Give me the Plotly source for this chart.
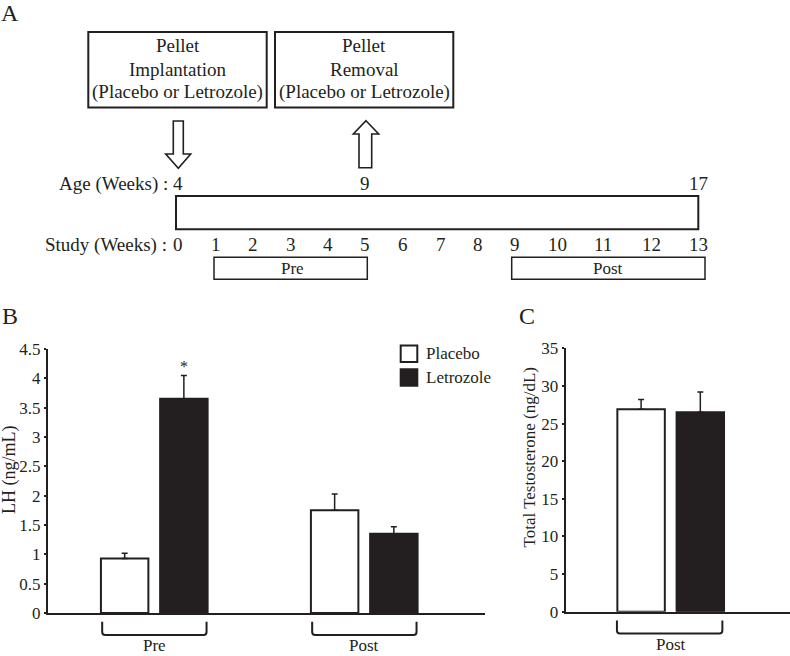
import plotly.graph_objects as go

# ---------------- Data ----------------
series_names = ["Placebo", "Letrozole"]

# Panel B: LH (ng/mL)
lh_groups = ["Pre", "Post"]
lh_placebo = [0.93, 1.75]
lh_placebo_sem = [0.09, 0.28]
lh_letrozole = [3.65, 1.35]
lh_letrozole_sem = [0.40, 0.12]
lh_ticks = [0, 0.5, 1, 1.5, 2, 2.5, 3, 3.5, 4, 4.5]
lh_significant = [True, False]   # letrozole vs placebo

# Panel C: Total testosterone (ng/dL)
tt_groups = ["Post"]
tt_placebo = [26.9]
tt_placebo_sem = [1.3]
tt_letrozole = [26.5]
tt_letrozole_sem = [2.7]
tt_ticks = [0, 5, 10, 15, 20, 25, 30, 35]

# Panel A: study timeline
study_weeks = list(range(14))
age_weeks = [4, 9, 17]
age_at_study_week = [0, 5, 13]
pre_window = [1, 5]
post_window = [9, 13]
event_boxes = [
    ["Pellet", "Implantation", "(Placebo or Letrozole)"],
    ["Pellet", "Removal", "(Placebo or Letrozole)"],
]

# ---------------- Layout helpers ----------------
W, H = 790, 656
INK = "#231f20"
FONT = "Liberation Serif, Times New Roman, serif"


def px(x):
    return x / W


def py(y):
    return 1 - y / H


# pixel positions of the study-week labels on the timeline
week_px = [178, 215.7, 253.3, 290.7, 328.3, 365, 403.3, 440.7, 478.3, 515,
           557.7, 603.3, 651.7, 698.3]

BAR_W = 0.226
OFF_P = -0.253
OFF_L = 0.029

fig = go.Figure()

# ---------------- Panel B bars ----------------
xb = list(range(len(lh_groups)))
fig.add_trace(go.Bar(
    x=xb, y=lh_placebo, name=series_names[0], width=BAR_W, offset=OFF_P,
    marker=dict(color="white", line=dict(color=INK, width=2)),
    error_y=dict(type="data", symmetric=False, array=lh_placebo_sem,
                 arrayminus=[0] * len(lh_placebo), color=INK, thickness=1.5, width=3),
    xaxis="x", yaxis="y", showlegend=False))
fig.add_trace(go.Bar(
    x=xb, y=lh_letrozole, name=series_names[1], width=BAR_W, offset=OFF_L,
    marker=dict(color=INK, line=dict(color=INK, width=2)),
    error_y=dict(type="data", symmetric=False, array=lh_letrozole_sem,
                 arrayminus=[0] * len(lh_letrozole), color=INK, thickness=1.5, width=3),
    xaxis="x", yaxis="y", showlegend=False))

# ---------------- Panel C bars ----------------
xc = list(range(len(tt_groups)))
fig.add_trace(go.Bar(
    x=xc, y=tt_placebo, name=series_names[0], width=BAR_W, offset=OFF_P,
    marker=dict(color="white", line=dict(color=INK, width=2)),
    error_y=dict(type="data", symmetric=False, array=tt_placebo_sem,
                 arrayminus=[0] * len(tt_placebo), color=INK, thickness=1.5, width=3),
    xaxis="x2", yaxis="y2", showlegend=False))
fig.add_trace(go.Bar(
    x=xc, y=tt_letrozole, name=series_names[1], width=BAR_W, offset=OFF_L,
    marker=dict(color=INK, line=dict(color=INK, width=2)),
    error_y=dict(type="data", symmetric=False, array=tt_letrozole_sem,
                 arrayminus=[0] * len(tt_letrozole), color=INK, thickness=1.5, width=3),
    xaxis="x2", yaxis="y2", showlegend=False))

shapes = []
annotations = []


def ann(text, x, y, size, xanchor="center", yanchor="middle", xref="paper",
        yref="paper", angle=0):
    annotations.append(dict(text=text, x=x, y=y, xref=xref, yref=yref,
                            xanchor=xanchor, yanchor=yanchor, showarrow=False,
                            textangle=angle,
                            font=dict(family=FONT, size=size, color=INK)))


def rect(x0, y0, x1, y1, lw=2, fill="rgba(0,0,0,0)"):
    shapes.append(dict(type="rect", xref="paper", yref="paper",
                       x0=px(x0), x1=px(x1), y0=py(y0), y1=py(y1),
                       line=dict(color=INK, width=lw), fillcolor=fill, layer="above"))


def poly(points, lw=1.6):
    path = "M" + " L".join(f"{px(a):.5f},{py(b):.5f}" for a, b in points) + " Z"
    shapes.append(dict(type="path", xref="paper", yref="paper", path=path,
                       line=dict(color=INK, width=lw), fillcolor="white", layer="above"))


def bracket(xref, x0, x1, ytop_px, ybot_px, rx):
    yt, yb = py(ytop_px), py(ybot_px)
    ry = 3 / H
    path = (f"M{x0},{yt} L{x0},{yb + ry} Q{x0},{yb} {x0 + rx},{yb} "
            f"L{x1 - rx},{yb} Q{x1},{yb} {x1},{yb + ry} L{x1},{yt}")
    shapes.append(dict(type="path", xref=xref, yref="paper", path=path,
                       line=dict(color=INK, width=2)))


# ---------------- Panel A: timeline diagram ----------------
ann("A", px(10), py(13), 24)
box_px = [(88.3, 266.7), (275.0, 453.3)]
line_y = [46, 69, 91.7]
for (bx0, bx1), lines in zip(box_px, event_boxes):
    rect(bx0, 32, bx1, 107.5)
    for t, ly in zip(lines, line_y):
        ann(t, px((bx0 + bx1) / 2), py(ly), 19)

# down arrow (implantation) and up arrow (removal)
poly([(173.3, 121), (183.3, 121), (183.3, 154), (190.7, 154), (178.3, 168.3),
      (165.7, 154), (173.3, 154)])
poly([(366, 120.7), (378.7, 134), (371.7, 134), (371.7, 167.7), (359, 167.7),
      (359, 134), (353.3, 134)])

ann("Age (Weeks) :", px(169.5), py(183.5), 19, xanchor="right")
for a, sw in zip(age_weeks, age_at_study_week):
    ann(str(a), px(week_px[sw]), py(183.5), 19)

rect(week_px[0] - 2, 196, week_px[-1], 229.3)

ann("Study (Weeks) :", px(168.5), py(244.5), 19, xanchor="right")
for w in study_weeks:
    ann(str(w), px(week_px[w]), py(244.5), 19)

rect(week_px[pre_window[0]] - 1.7, 257.3, week_px[pre_window[1]] + 2.3, 279.3, lw=1.5)
ann("Pre", px((week_px[pre_window[0]] + week_px[pre_window[1]]) / 2 + 2), py(268.5), 17)
rect(week_px[post_window[0]] - 3.3, 257.3, week_px[post_window[1]] + 6.7, 279.3, lw=1.5)
ann("Post", px((week_px[post_window[0]] + week_px[post_window[1]]) / 2 + 1.5), py(268.5), 17)

# ---------------- Panel B decorations ----------------
ann("B", px(10), py(315.5), 24)
ann("LH (ng/mL)", px(9), py(470), 18, angle=-90)
for i, g in enumerate(lh_groups):
    bracket("x", i - 0.247, i + 0.250, 621.7, 635, 3 / 210)
    ann(g, i, py(645), 17, xref="x")
for i, sig in enumerate(lh_significant):
    if sig:
        ann("*", i + OFF_L + BAR_W / 2, lh_letrozole[i] + lh_letrozole_sem[i] + 0.16,
            16, xref="x", yref="y")

# manual legend
leg_rows = [353.7, 377.5]
leg_fill = ["white", INK]
for name, yc, fc in zip(series_names, leg_rows, leg_fill):
    rect(400.7, yc - 8.2, 417.3, yc + 8.2, lw=2, fill=fc)
    ann(name, px(424), py(yc), 17, xanchor="left")

# ---------------- Panel C decorations ----------------
ann("C", px(527), py(315.5), 24)
ann("Total Testosterone (ng/dL)", px(529), py(457.5), 17, angle=-90)
for i, g in enumerate(tt_groups):
    bracket("x2", i - 0.255, i + 0.247, 620.5, 633.5, 3 / 210)
    ann(g, i, py(644.5), 17, xref="x2")

axis_common = dict(showgrid=False, zeroline=False, showline=True, linecolor=INK,
                   linewidth=2, fixedrange=True, automargin=False)

fig.update_layout(
    width=W, height=H, autosize=False,
    margin=dict(l=0, r=0, t=0, b=0, pad=0, autoexpand=False),
    paper_bgcolor="white", plot_bgcolor="rgba(0,0,0,0)",
    barmode="overlay", showlegend=False,
    font=dict(family=FONT, color=INK, size=17),
    xaxis=dict(domain=[px(48), px(485)], range=[-0.505, 1.576], anchor="y",
               showticklabels=False, ticks="", **axis_common),
    yaxis=dict(domain=[py(613), py(349)], range=[0, 4.5], anchor="x",
               tickmode="array", tickvals=lh_ticks,
               ticktext=[f"{v:g}" for v in lh_ticks],
               ticks="outside", ticklen=2, tickwidth=2, tickcolor=INK,
               tickfont=dict(family=FONT, size=17, color=INK), **axis_common),
    xaxis2=dict(domain=[px(565.7), 1.0], range=[-0.499, 0.569], anchor="y2",
                showticklabels=False, ticks="", **axis_common),
    yaxis2=dict(domain=[py(611.7), py(348.3)], range=[0, 35], anchor="x2",
                tickmode="array", tickvals=tt_ticks,
                ticktext=[str(v) for v in tt_ticks],
                ticks="outside", ticklen=2, tickwidth=2, tickcolor=INK,
                tickfont=dict(family=FONT, size=17, color=INK), **axis_common),
    shapes=shapes,
    annotations=annotations,
)

# remove the default page margin so the 790x656 figure fills the window exactly
fig.write_html(
    "out.html",
    config={"responsive": False, "displayModeBar": False},
    post_script="document.body.style.margin='0';document.body.style.overflow='hidden';",
)
